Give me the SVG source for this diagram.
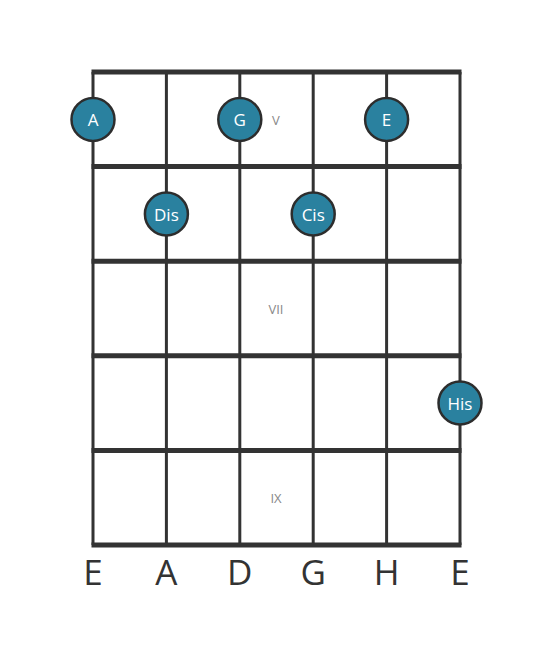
<svg xmlns="http://www.w3.org/2000/svg" width="553" height="656" viewBox="0 0 553 656">
<style>
.fret{stroke:#333;stroke-width:5}
.str{stroke:#333;stroke-width:3}
.note circle{fill:#2a819f;stroke:#2d2d2d;stroke-width:2.5}
.note text{fill:#fff;font-family:"Open Sans",sans-serif;font-size:17px;text-anchor:middle;dominant-baseline:central}
.num{fill:#888;font-family:"Open Sans",sans-serif;font-size:13px;text-anchor:middle;dominant-baseline:central}
.tun{fill:#333;font-family:"Open Sans",sans-serif;font-size:35px;text-anchor:middle}
</style>
<rect width="553" height="656" fill="#fff"/>
<g id="grid">
<line class="str" x1="93" y1="72" x2="93" y2="545"/>
<line class="str" x1="166.4" y1="72" x2="166.4" y2="545"/>
<line class="str" x1="239.8" y1="72" x2="239.8" y2="545"/>
<line class="str" x1="313.2" y1="72" x2="313.2" y2="545"/>
<line class="str" x1="386.6" y1="72" x2="386.6" y2="545"/>
<line class="str" x1="460" y1="72" x2="460" y2="545"/>
<line class="fret" x1="91.5" y1="72" x2="461.5" y2="72"/>
<line class="fret" x1="91.5" y1="166.6" x2="461.5" y2="166.6"/>
<line class="fret" x1="91.5" y1="261.2" x2="461.5" y2="261.2"/>
<line class="fret" x1="91.5" y1="355.8" x2="461.5" y2="355.8"/>
<line class="fret" x1="91.5" y1="450.4" x2="461.5" y2="450.4"/>
<line class="fret" x1="91.5" y1="545" x2="461.5" y2="545"/>
</g>
<g id="fretnums">
<text class="num" x="276" y="120">V</text>
<text class="num" x="276" y="309">VII</text>
<text class="num" x="276" y="498">IX</text>
</g>
<g id="note-A" class="note"><circle cx="93" cy="119.5" r="21.5"/><text x="93" y="119.5">A</text></g>
<g id="note-G" class="note"><circle cx="239.8" cy="119.5" r="21.5"/><text x="239.8" y="119.5">G</text></g>
<g id="note-E" class="note"><circle cx="386.6" cy="119.5" r="21.5"/><text x="386.6" y="119.5">E</text></g>
<g id="note-Dis" class="note"><circle cx="166.4" cy="214" r="21.5"/><text x="166.4" y="214">Dis</text></g>
<g id="note-Cis" class="note"><circle cx="313.2" cy="214" r="21.5"/><text x="313.2" y="214">Cis</text></g>
<g id="note-His" class="note"><circle cx="460" cy="403" r="21.5"/><text x="460" y="403">His</text></g>
<g id="tuning">
<text class="tun" x="93" y="585">E</text>
<text class="tun" x="166.4" y="585">A</text>
<text class="tun" x="239.8" y="585">D</text>
<text class="tun" x="313.2" y="585">G</text>
<text class="tun" x="386.6" y="585">H</text>
<text class="tun" x="460" y="585">E</text>
</g>
</svg>
